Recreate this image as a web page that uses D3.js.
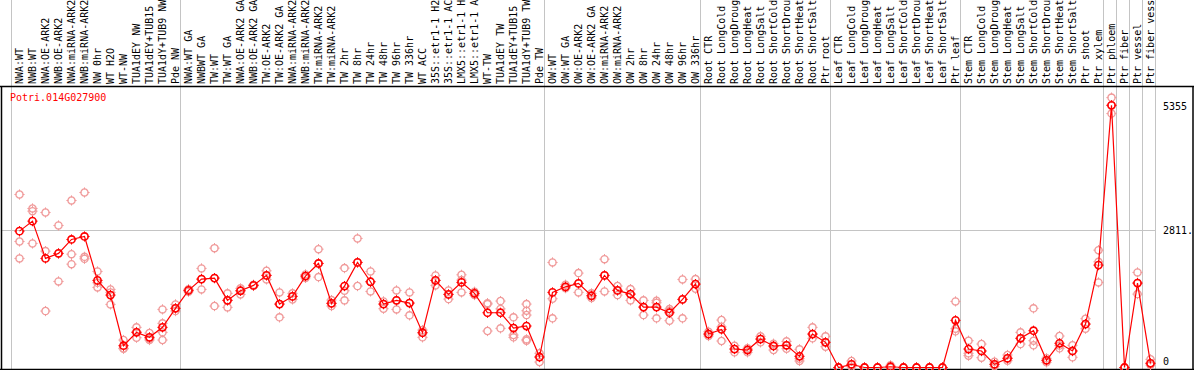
<html>
<head>
<meta charset="utf-8">
<title>Potri.014G027900</title>
<style>
  body { margin: 0; background: #fff; }
  text { font-family: "DejaVu Sans Mono", monospace; font-size: 10px; }
</style>
</head>
<body>
<script src="https://cdn.jsdelivr.net/npm/d3@7/dist/d3.min.js"></script>
<script>
var geneName = "Potri.014G027900";

var samples = [
  "NWA:WT", "NWB:WT", "NWA:OE-ARK2", "NWB:OE-ARK2", "NWA:miRNA-ARK2", "NWB:miRNA-ARK2",
  "NW 0hr", "WT H2O", "WT-NW", "TUA1dEY NW", "TUA1dEY+TUB15 NW", "TUA1dY+TUB9 NW", "Pde NW",
  "NWA:WT GA", "NWBWT GA", "TW:WT", "TW:WT GA", "NWA:OE-ARK2 GA", "NWB:OE-ARK2 GA",
  "TW:OE-ARK2", "TW:OE-ARK2 GA", "NWA:miRNA-ARK2 GA", "NWB:miRNA-ARK2 GA", "TW:miRNA-ARK2",
  "TW:miRNA-ARK2 GA", "TW 2hr", "TW 8hr", "TW 24hr", "TW 48hr", "TW 96hr", "TW 336hr",
  "WT ACC", "35S::etr1-1 H2O", "35S::etr1-1 ACC", "LMX5::etr1-1 H2O", "LMX5::etr1-1 ACC",
  "WT-TW", "TUA1dEY TW", "TUA1dEY+TUB15 TW", "TUA1dY+TUB9 TW", "Pde TW",
  "OW:WT", "OW:WT GA", "OW:OE-ARK2", "OW:OE-ARK2 GA", "OW:miRNA-ARK2", "OW:miRNA-ARK2 GA",
  "OW 2hr", "OW 8hr", "OW 24hr", "OW 48hr", "OW 96hr", "OW 336hr",
  "Root CTR", "Root LongCold", "Root LongDrought", "Root LongHeat", "Root LongSalt",
  "Root ShortCold", "Root ShortDrought", "Root ShortHeat", "Root ShortSalt", "Ptr root",
  "Leaf CTR", "Leaf LongCold", "Leaf LongDrought", "Leaf LongHeat", "Leaf LongSalt",
  "Leaf ShortCold", "Leaf ShortDrought", "Leaf ShortHeat", "Leaf ShortSalt", "Ptr leaf",
  "Stem CTR", "Stem LongCold", "Stem LongDrought", "Stem LongHeat", "Stem LongSalt",
  "Stem ShortCold", "Stem ShortDrought", "Stem ShortHeat", "Stem ShortSalt", "Ptr shoot",
  "Ptr xylem", "Ptr phloem", "Ptr fiber", "Ptr vessel", "Ptr fiber vessel"
];

// first sample of each group (a grey line is drawn before it)
var groupStarts = [0, 13, 41, 53, 63, 73, 84, 85, 86, 87, 88];

var means = [
  2785, 2989, 2228, 2330, 2615, 2676, 1779, 1479, 445, 718, 616, 820, 1208,
  1575, 1805, 1826, 1371, 1567, 1677, 1881, 1295, 1452, 1867, 2125, 1310, 1663,
  2146, 1751, 1295, 1371, 1316, 710, 1779, 1493, 1738, 1514, 1118, 1118, 806, 847, 214,
  1534, 1648, 1718, 1465, 1881, 1575, 1499, 1234, 1234, 1118, 1391, 1703,
  683, 779, 377, 357, 581, 439, 453, 228, 683, 514,
  0, 65, 0, 0, 15, 0, 0, 0, 0, 963,
  377, 337, 65, 188, 596, 751, 147, 494, 337, 887, 2091,
  5355, 0, 1724, 86
];

var replicates = [
  [3533, 2574, 2228], [3248, 3193, 2534], [3166, 2377, 1153], [2901, 1758, 2330],
  [3411, 2315, 2111], [3574, 2260, 2220], [1962, 1730, 1636], [1595, 1534, 1289],
  [561, 392, 382], [820, 608, 726], [704, 588, 561], [1187, 902, 718, 561], [1289, 1153, 1208],
  [1600, 1548, 1575], [2024, 1595, 1805], [2438, 1255, 1826], [1514, 1228, 1371],
  [1616, 1493, 1567], [1690, 1665, 1677], [1975, 1799, 1881], [1534, 1024, 1295],
  [1514, 1391, 1452], [1900, 1830, 1867], [2417, 1846, 2125], [1377, 1255, 1310],
  [2030, 1567, 1371], [2636, 1663, 2146], [1962, 1554, 1751], [1350, 1200, 1295],
  [1575, 1187, 1371], [1534, 1065, 1316], [765, 616, 710], [1881, 1677, 1779],
  [1575, 1397, 1493], [1893, 1534, 1785], [1548, 1480, 1514], [1295, 745, 1314],
  [1357, 800, 1197], [1024, 663, 616, 806], [1295, 1159, 1071, 575, 547], [290, 112, 214],
  [2146, 1404, 1004], [1690, 1620, 1648], [1928, 1534, 1718], [1514, 1420, 1465],
  [2213, 1554, 1881], [1663, 1479, 1575], [1601, 1371, 1499], [1371, 1071, 1234],
  [1363, 1322, 1004], [1193, 955, 1153], [1799, 1004, 1391], [1805, 1608, 1703],
  [730, 643, 683], [969, 541, 830], [445, 310, 377], [392, 310, 357], [636, 514, 581],
  [486, 357, 439], [534, 384, 453], [371, 133, 180], [820, 596, 683], [636, 424, 514],
  [0, 0, 0], [133, 16, 65], [0, 0, 0], [0, 0, 0], [45, 0, 0], [0, 0, 0], [0, 0, 0],
  [0, 0, 0], [0, 0, 0], [1350, 792, 738],
  [547, 290, 241], [479, 200, 337], [118, 24, 65], [255, 139, 188], [718, 479, 596],
  [1208, 547, 453], [188, 106, 147], [643, 392, 447], [453, 208, 337], [996, 792, 887],
  [2397, 2158, 1738],
  [5512, 5186, 5355], [0, 0, 0], [1942, 1499, 1724], [167, 51, 86]
];

var yTicks = [0, 2811, 5355];
var yTickLabels = ["0", "2811.", "5355"];

var width = 1194, height = 370;
var plotTop = 86, plotBottom = 369, plotRight = 1156;

var svg = d3.select("body").append("svg")
  .attr("width", width)
  .attr("height", height);

var x = d3.scaleLinear().domain([0, samples.length - 1]).range([19.5, 1150.5]);
var y = d3.scaleLinear().domain([0, 5355]).range([367.5, 105.3]);

// group separators
svg.selectAll("line.vgrid")
  .data(groupStarts)
  .enter().append("line")
  .attr("class", "vgrid")
  .attr("x1", function (d) { return Math.round(x(d) - 8.5) + 0.5; })
  .attr("x2", function (d) { return Math.round(x(d) - 8.5) + 0.5; })
  .attr("y1", 0).attr("y2", plotBottom)
  .attr("stroke", "#c4c4c4").attr("stroke-width", 1);

// horizontal grid at middle tick
svg.append("line")
  .attr("x1", 1).attr("x2", plotRight)
  .attr("y1", Math.round(y(yTicks[1])) + 0.5)
  .attr("y2", Math.round(y(yTicks[1])) + 0.5)
  .attr("stroke", "#c4c4c4").attr("stroke-width", 1);

// frame
svg.append("line").attr("x1", 0).attr("x2", width).attr("y1", plotTop + 0.5).attr("y2", plotTop + 0.5)
  .attr("stroke", "#000").attr("stroke-width", 1.5);
svg.append("line").attr("x1", 1.5).attr("x2", 1.5).attr("y1", plotTop).attr("y2", height)
  .attr("stroke", "#000").attr("stroke-width", 1.5);
svg.append("line").attr("x1", 1193).attr("x2", 1193).attr("y1", plotTop).attr("y2", height)
  .attr("stroke", "#000").attr("stroke-width", 1.5);
svg.append("line").attr("x1", 0).attr("x2", width).attr("y1", plotBottom + 0.5).attr("y2", plotBottom + 0.5)
  .attr("stroke", "#000").attr("stroke-width", 1.5);

// column labels (long ones run off the top edge, as in the original)
svg.selectAll("text.col")
  .data(samples)
  .enter().append("text")
  .attr("class", "col")
  .attr("transform", function (d, i) {
    return "translate(" + (x(i) + 3) + "," + (plotTop - 2) + ") rotate(-90)";
  })
  .attr("fill", "#000")
  .text(function (d) { return d; });

// gene name
svg.append("text")
  .attr("x", 10).attr("y", 101)
  .attr("fill", "#ff0000")
  .text(geneName);

// right axis labels
svg.selectAll("text.ytick")
  .data(yTicks)
  .enter().append("text")
  .attr("class", "ytick")
  .attr("x", 1163)
  .attr("y", function (d) { return d === 0 ? y(d) - 6 : y(d) + 1; })
  .attr("dy", "0.35em")
  .attr("fill", "#000")
  .text(function (d, i) { return yTickLabels[i]; });

function marker(g, r, color, sw) {
  g.append("circle").attr("r", r)
    .attr("fill", "none").attr("stroke", color).attr("stroke-width", sw);
  g.append("path")
    .attr("d", "M0," + (-r - 1.5) + "V" + (-r + 0.5) + "M0," + (r - 0.5) + "V" + (r + 1.5) +
      "M" + (-r - 1.5) + ",0H" + (-r + 0.5) + "M" + (r - 0.5) + ",0H" + (r + 1.5))
    .attr("stroke", color).attr("stroke-width", 1);
}

// replicate points
var repPoints = [];
replicates.forEach(function (arr, i) {
  arr.forEach(function (v) { repPoints.push({ i: i, v: v }); });
});
svg.selectAll("g.rep")
  .data(repPoints)
  .enter().append("g")
  .attr("class", "rep")
  .attr("transform", function (d) { return "translate(" + x(d.i) + "," + y(d.v) + ")"; })
  .each(function () { marker(d3.select(this), 3.6, "#f09a9a", 1.3); });

// mean line
var line = d3.line()
  .x(function (d, i) { return x(i); })
  .y(function (d) { return y(d); });
svg.append("path")
  .datum(means)
  .attr("d", line)
  .attr("fill", "none")
  .attr("stroke", "#ff0000")
  .attr("stroke-width", 1.2);

// mean points
svg.selectAll("g.mean")
  .data(means)
  .enter().append("g")
  .attr("class", "mean")
  .attr("transform", function (d, i) { return "translate(" + x(i) + "," + y(d) + ")"; })
  .each(function () { marker(d3.select(this), 3.6, "#ff0000", 1.6); });
</script>
</body>
</html>
